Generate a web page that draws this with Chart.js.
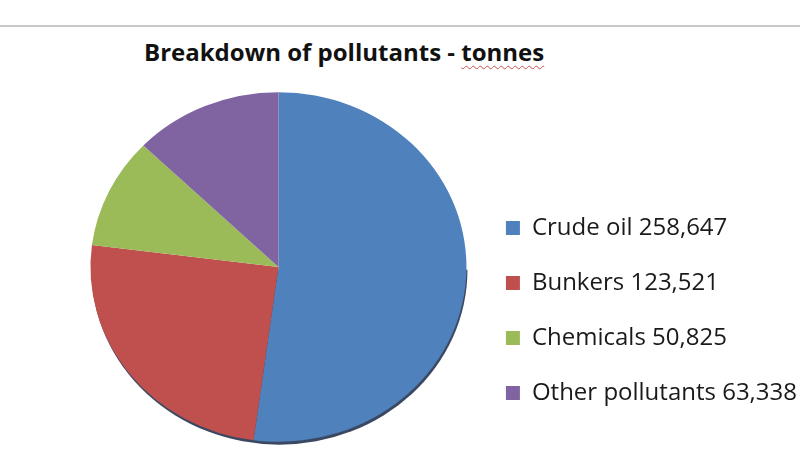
<!DOCTYPE html>
<html>
<head>
<meta charset="utf-8">
<script src="https://cdn.jsdelivr.net/npm/chart.js@4.4.1/dist/chart.umd.min.js"></script>
<style>
html, body { margin: 0; padding: 0; background: #fff; overflow: hidden; width: 800px; height: 450px; }
.rule { position: absolute; left: 0; top: 25px; width: 800px; border-top: 2px solid #c8c8c8; }
.title { position: absolute; left: 144px; top: 40px; font: bold 24px "Open Sans", sans-serif; line-height: 24px; color: #111; white-space: nowrap; }
.title span { text-decoration: underline wavy #d05050; text-decoration-thickness: 1px; text-underline-offset: 4px; }
#wrap { position: absolute; left: 0; top: 0; }
</style>
</head>
<body>
<div class="rule"></div>
<div class="title">Breakdown of pollutants - <span>tonnes</span></div>
<div id="wrap"><canvas id="pie" width="807" height="534"></canvas></div>
<script>
const categories = ['Crude oil', 'Bunkers', 'Chemicals', 'Other pollutants'];
const tonnes = [258647, 123521, 50825, 63338];
const sliceColors = ['#4F81BD', '#C0504D', '#9BBB59', '#8064A2'];

// slightly tilted pie, like the office chart it came from
const squash = {
    id: 'squash',
    beforeDatasetsDraw(chart) {
        const arc = chart.getDatasetMeta(0).data[0];
        const ctx = chart.ctx;
        ctx.save();
        ctx.translate(arc.x, arc.y);
        ctx.scale(1, 0.93);
        ctx.translate(-arc.x, -arc.y);
        ctx.beginPath();
        ctx.arc(arc.x + 1, arc.y + 3, arc.outerRadius, 0, Math.PI);
        ctx.fillStyle = 'rgba(25, 40, 70, 0.85)';
        ctx.fill();
    },
    afterDatasetsDraw(chart) {
        chart.ctx.restore();
    }
};

new Chart(document.getElementById('pie'), {
    type: 'pie',
    data: {
        labels: categories.map((c, i) => c + ' ' + tonnes[i].toLocaleString('en-US')),
        datasets: [{
            data: tonnes,
            backgroundColor: sliceColors,
            borderWidth: 0,
            radius: 188
        }]
    },
    options: {
        responsive: false,
        animation: false,
        layout: {
            padding: {left: 82, top: 0, right: 0, bottom: 0}
        },
        plugins: {
            tooltip: {enabled: false},
            legend: {
                position: 'right',
                align: 'start',
                title: {display: true, text: ' ', font: {size: 10}, padding: {top: 173, bottom: 0}},
                labels: {
                    boxWidth: 14,
                    boxHeight: 14,
                    padding: 31,
                    color: '#1a1a1a',
                    font: {family: 'Open Sans', size: 24}
                }
            }
        }
    },
    plugins: [squash]
});
</script>
</body>
</html>
